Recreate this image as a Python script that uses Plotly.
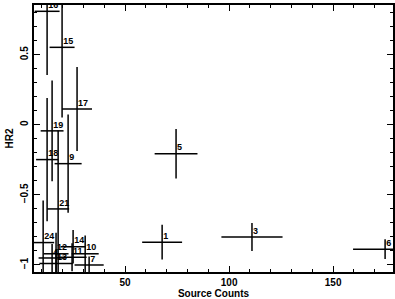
import plotly.graph_objects as go

labels = ["1", "3", "4", "5", "6", "7", "9", "10", "11", "12", "13", "14",
          "15", "16", "17", "18", "19", "21", "24"]
counts = [67.8, 111.0, 14.9, 74.5, 175.0, 32.7, 22.6, 30.8, 24.5, 16.8, 16.8, 25.0,
          19.7, 12.5, 26.9, 12.5, 14.9, 17.8, 10.6]
counts_err = [9.6, 14.7, 6.5, 10.3, 15.4, 7.0, 6.5, 6.5, 7.0, 6.0, 8.0, 6.0,
              6.0, 6.0, 7.2, 5.3, 5.5, 5.3, 5.3]
hr2 = [-0.837, -0.80, -0.95, -0.206, -0.887, -1.0, -0.277, -0.92, -0.945, -0.92, -0.99, -0.87,
       0.553, 0.81, 0.113, -0.248, -0.043, -0.60, -0.84]
hr2_err = [0.124, 0.10, 0.10, 0.177, 0.07, 0.06, 0.35, 0.13, 0.10, 0.15, 0.10, 0.12,
           0.50, 0.455, 0.30, 0.44, 0.36, 0.56, 0.30]

x_ticks = [50, 100, 150]
y_ticks = [-1, -0.5, 0, 0.5]
y_ticktext = ["\u22121", "\u22120.5", "0", "0.5"]

font_family = "Liberation Sans, Arial, sans-serif"

fig = go.Figure()
fig.add_trace(go.Scatter(
    x=counts, y=hr2, mode="markers+text",
    marker=dict(size=0.1, color="black", opacity=0),
    text=labels, textposition="top right",
    textfont=dict(family=font_family, size=9, color="black", weight="bold"),
    error_x=dict(type="data", array=counts_err, width=0, thickness=1.5, color="black"),
    error_y=dict(type="data", array=hr2_err, width=0, thickness=1.5, color="black"),
    cliponaxis=True, showlegend=False,
))

axis_common = dict(
    showgrid=False, zeroline=False, showline=True, linecolor="black", linewidth=1.5,
    mirror="ticks", ticks="inside", ticklen=6, tickwidth=1, tickcolor="black",
    automargin=False,
    tickfont=dict(family=font_family, size=10, color="black", weight="bold"),
)

fig.update_xaxes(
    range=[6.2, 178.8], tickmode="array", tickvals=x_ticks, ticktext=[str(v) for v in x_ticks],
    minor=dict(dtick=10, tick0=0, ticks="inside", ticklen=3, tickcolor="black", showgrid=False),
    title=dict(text="Source Counts", standoff=1,
               font=dict(family=font_family, size=10, color="black", weight="bold")),
    **axis_common,
)
fig.update_yaxes(
    range=[-1.05, 0.855], tickmode="array", tickvals=y_ticks, ticktext=y_ticktext,
    tickangle=-90,
    minor=dict(dtick=0.1, tick0=0, ticks="inside", ticklen=3, tickcolor="black", showgrid=False),
    title=dict(text="HR2", standoff=4,
               font=dict(family=font_family, size=10, color="black", weight="bold")),
    **axis_common,
)

fig.update_layout(
    width=395, height=299,
    margin=dict(l=34, r=2, t=5, b=27, pad=0, autoexpand=False),
    paper_bgcolor="white", plot_bgcolor="white",
)

fig.write_html(
    "out.html",
    config={"displayModeBar": False},
    post_script="document.body.style.margin='0';document.body.style.overflow='hidden';",
)
